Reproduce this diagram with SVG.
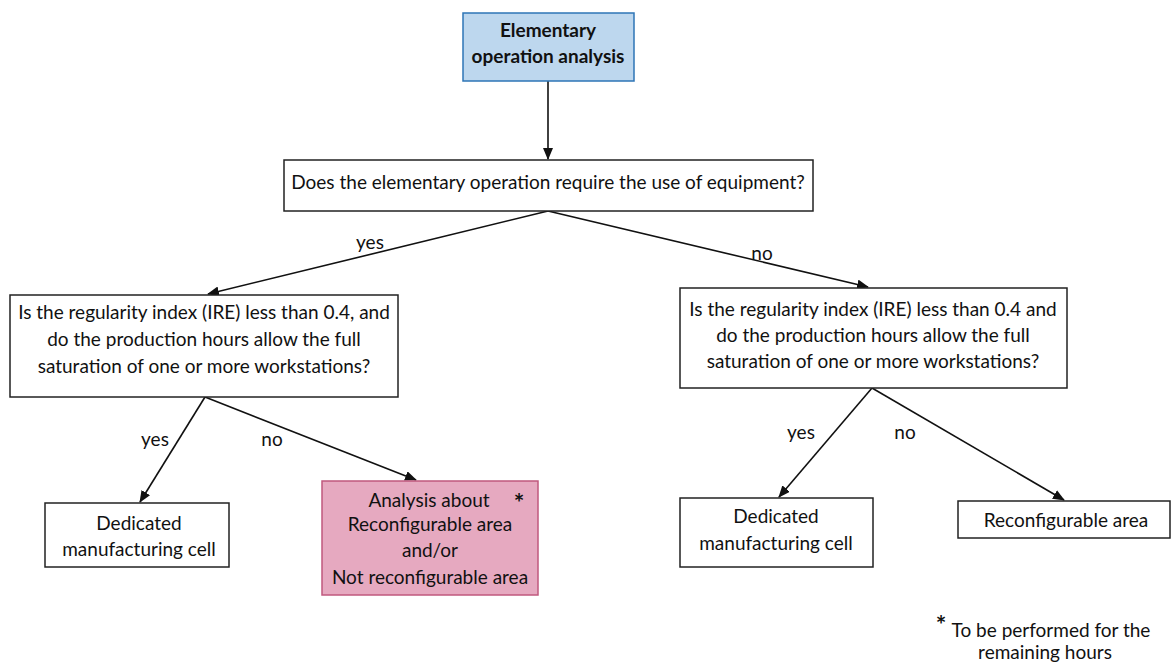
<svg xmlns="http://www.w3.org/2000/svg" width="1172" height="666" viewBox="0 0 1172 666">
<style>
text{font-family:Lato,"Open Sans","Liberation Sans",sans-serif;font-size:19px;fill:#111;text-anchor:middle}
.box{fill:#fff;stroke:#222;stroke-width:1.5}
.b{font-weight:bold}
.star{font-weight:bold;font-size:25px}
.c{stroke:#111;stroke-width:1.6;fill:none;marker-end:url(#ah)}
</style>
<defs>
<marker id="ah" markerWidth="12" markerHeight="10" refX="11" refY="5" orient="auto" markerUnits="userSpaceOnUse">
<path d="M0,0 L12,5 L0,10 Z" fill="#111"/>
</marker>
</defs>
<rect width="1172" height="666" fill="#fff"/>
<g id="connectors">
<line class="c" x1="548" y1="81" x2="548" y2="159"/>
<line class="c" x1="548" y1="211" x2="208" y2="294"/>
<line class="c" x1="548" y1="211" x2="868" y2="287"/>
<line class="c" x1="205" y1="397" x2="140" y2="502"/>
<line class="c" x1="205" y1="397" x2="416" y2="480"/>
<line class="c" x1="872" y1="388" x2="779" y2="497"/>
<line class="c" x1="872" y1="388" x2="1064" y2="500"/>
<text x="370" y="249">yes</text>
<text x="762" y="260">no</text>
<text x="155" y="446">yes</text>
<text x="272" y="446">no</text>
<text x="801" y="439">yes</text>
<text x="905" y="439">no</text>
</g>
<g id="start">
<rect x="463" y="13" width="171" height="68" fill="#BDD7EE" stroke="#2E75B6" stroke-width="1.5"/>
<text class="b" x="548" y="37">Elementary</text>
<text class="b" x="548" y="63">operation analysis</text>
</g>
<g id="q1">
<rect class="box" x="284" y="160" width="529" height="51"/>
<text x="548" y="189">Does the elementary operation require the use of equipment?</text>
</g>
<g id="q2">
<rect class="box" x="10" y="295" width="388" height="102"/>
<text x="204" y="319">Is the regularity index (IRE) less than 0.4, and</text>
<text x="204" y="346">do the production hours allow the full</text>
<text x="204" y="373">saturation of one or more workstations?</text>
</g>
<g id="q3">
<rect class="box" x="680" y="288" width="387" height="100"/>
<text x="873" y="316">Is the regularity index (IRE) less than 0.4 and</text>
<text x="873" y="342">do the production hours allow the full</text>
<text x="873" y="368">saturation of one or more workstations?</text>
</g>
<g id="dedicated1">
<rect class="box" x="45" y="503" width="184" height="64"/>
<text x="139" y="530">Dedicated</text>
<text x="139" y="556">manufacturing cell</text>
</g>
<g id="analysis">
<rect x="322" y="481" width="216" height="114" fill="#E6A9C0" stroke="#C0587E" stroke-width="1.5"/>
<text x="429" y="507">Analysis about</text>
<text class="star" x="519" y="512">*</text>
<text x="430" y="531">Reconfigurable area</text>
<text x="430" y="557">and/or</text>
<text x="430" y="584">Not reconfigurable area</text>
</g>
<g id="dedicated2">
<rect class="box" x="680" y="498" width="193" height="69"/>
<text x="776" y="523">Dedicated</text>
<text x="776" y="550">manufacturing cell</text>
</g>
<g id="reconf">
<rect class="box" x="958" y="501" width="212" height="37"/>
<text x="1066" y="527">Reconfigurable area</text>
</g>
<g id="footnote">
<text class="star" x="941" y="634">*</text>
<text x="1051" y="637">To be performed for the</text>
<text x="1045" y="659">remaining hours</text>
</g>
</svg>
